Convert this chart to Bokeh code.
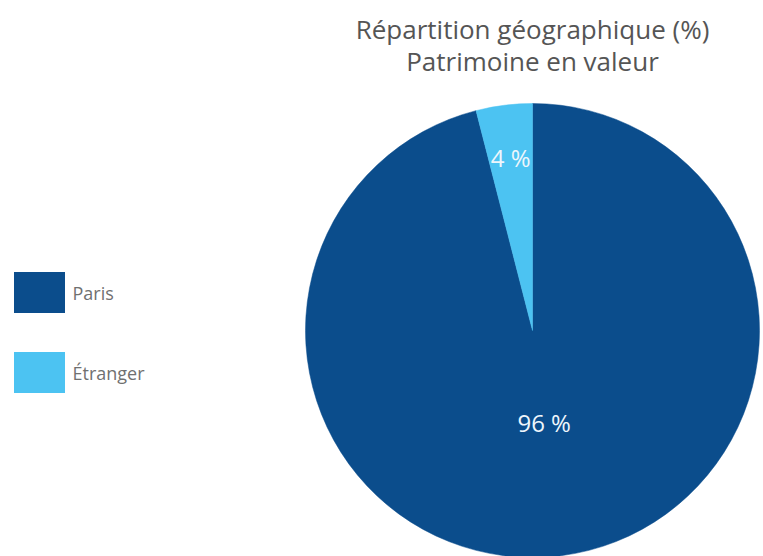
import math
from bokeh.plotting import figure
from bokeh.models import Range1d, ColumnDataSource
from bokeh.core.properties import value
from bokeh.embed import file_html
from bokeh.resources import INLINE

# ---- data ----
categories = ["Paris", "Étranger"]
shares = [96, 4]
labels = ["96 %", "4 %"]
colors = ["#0b4d8c", "#4cc3f2"]
title_lines = ["Répartition géographique (%)", "Patrimoine en valeur"]

# ---- layout constants ----
W, H = 763, 556
cx, cy, R = 532, 226, 227
label_r = [0.41, 0.77]

p = figure(width=W, height=H, output_backend="svg", toolbar_location=None,
           x_range=Range1d(0, W), y_range=Range1d(0, H), min_border=0,
           background_fill_color="white", border_fill_color="white")
p.axis.visible = False
p.grid.visible = False
p.outline_line_color = None

# wedges: Étranger starts at top going counter-clockwise, Paris fills the rest
total = sum(shares)
order = [1, 0]
start = math.pi / 2
starts, ends, mids = {}, {}, {}
for i in order:
    a = shares[i] / total * 2 * math.pi
    starts[i] = start
    ends[i] = start + a
    mids[i] = start + a / 2
    start += a

src = ColumnDataSource(dict(
    start=[starts[i] for i in range(len(categories))],
    end=[ends[i] for i in range(len(categories))],
    color=colors,
))
p.wedge(x=cx, y=cy, radius=R, start_angle="start", end_angle="end",
        fill_color="color", line_color="color", line_width=0.5, source=src)

lx = [cx + label_r[i] * R * math.cos(mids[i]) for i in range(len(categories))]
ly = [cy + label_r[i] * R * math.sin(mids[i]) for i in range(len(categories))]
p.text(x=lx, y=ly, text=labels, text_color="#eef6fc", text_font=value("Open Sans"),
       text_font_size="24px", text_align="center", text_baseline="middle")

# title
p.text(x=[cx, cx], y=[H - 28, H - 60], text=title_lines, text_color="#555555",
       text_font=value("Open Sans"), text_font_size="26px",
       text_align="center", text_baseline="middle")

# legend
leg_y = [H - 292, H - 372]
p.rect(x=[39, 39], y=leg_y, width=51, height=41, fill_color=colors, line_color=None)
p.text(x=[72, 72], y=leg_y, text=categories, text_color="#707070",
       text_font=value("Open Sans"), text_font_size="18px",
       text_align="left", text_baseline="middle")

open("out.html", "w").write(file_html(p, INLINE))
